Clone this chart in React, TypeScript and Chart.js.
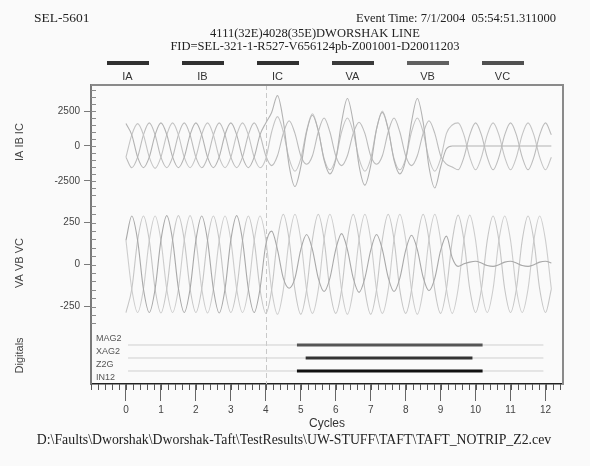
import React, { useEffect, useRef } from 'react';
import { Chart, registerables } from 'chart.js';

Chart.register(...registerables);

// ---------- data (sampled 6 points per cycle, read from the record) ----------
const SAMPLES_PER_CYCLE = 6;

const IA = [
  1600, 800, -800, -1550, -800, 800,
  1650, 820, -780, -1550, -800, 800,
  1650, 800, -800, -1550, -780, 820,
  1650, 800, -800, -1550, -800, 800,
  1650, 2400, 3600, 1800, -1400, -2900,
  -1500, 1000, 2200, 1100, -1000, -2000,
  -1000, 1700, 3400, 1700, -1400, -2800,
  -1400, 1200, 2400, 1200, -1000, -2000,
  -1000, 1700, 3400, 1700, -1500, -3000,
  -1500, -200, 0, 0, 0, 0,
  0, 0, 0, 0, 0, 0,
  0, 0, 0, 0, 0, 0,
  0, 0,
];

const IB = [
  -800, 800, 1600, 800, -800, -1600,
  -800, 800, 1650, 800, -800, -1550,
  -780, 820, 1650, 800, -800, -1550,
  -800, 800, 1650, 800, -800, -1550,
  -900, 1000, 2100, 1000, -900, -1800,
  -900, 1100, 2300, 1100, -900, -1700,
  -900, 1000, 2000, 1000, -900, -1800,
  -900, 1200, 2500, 1200, -900, -1700,
  -900, 1000, 2000, 1000, -900, -1800,
  -900, 900, 1500, 1650, 800, -800,
  -1700, -800, 800, 1650, 800, -800,
  -1700, -800, 800, 1650, 800, -800,
  -1700, -800,
];

const IC = [
  -800, -1550, -800, 800, 1650, 800,
  -800, -1550, -800, 800, 1650, 800,
  -800, -1550, -820, 780, 1650, 800,
  -800, -1550, -800, 800, 1650, 800,
  -700, -1400, -700, 900, 1800, 900,
  -700, -1300, -700, 1000, 2000, 1000,
  -700, -1400, -700, 900, 1700, 900,
  -700, -1300, -700, 1000, 2000, 1000,
  -700, -1400, -700, 900, 1800, 900,
  -700, -1300, -1500, -1700, -800, 800,
  1650, 800, -800, -1700, -800, 800,
  1650, 800, -800, -1700, -800, 800,
  1650, 800,
];

const VA = [
  145, 290, 145, -145, -285, -145,
  145, 292, 148, -142, -285, -145,
  145, 290, 145, -145, -288, -145,
  148, 292, 145, -145, -285, -145,
  120, 200, 90, -80, -140, -80,
  90, 180, 90, -80, -160, -80,
  90, 185, 90, -80, -165, -80,
  85, 180, 90, -75, -160, -80,
  85, 175, 90, -75, -155, -80,
  85, 170, 40, -10, 5, 15,
  20, 10, -5, -10, 0, 15,
  20, 10, -5, -10, 0, 15,
  20, 10,
];

const VB = [
  -285, -145, 145, 290, 145, -145,
  -288, -145, 145, 292, 148, -142,
  -285, -145, 145, 290, 145, -145,
  -285, -148, 142, 290, 145, -145,
  -290, -150, 150, 300, 150, -150,
  -295, -150, 150, 300, 150, -150,
  -290, -150, 150, 300, 150, -150,
  -295, -150, 150, 300, 150, -150,
  -290, -150, 150, 300, 150, -150,
  -290, -145, 145, 295, 145, -145,
  -285, -145, 145, 290, 145, -145,
  -285, -145, 145, 290, 145, -145,
  -285, -145,
];

const VC = [
  145, -145, -285, -145, 145, 290,
  145, -145, -285, -145, 145, 292,
  148, -142, -288, -145, 145, 290,
  145, -145, -285, -148, 142, 290,
  150, -150, -295, -150, 150, 300,
  150, -150, -290, -150, 150, 300,
  150, -150, -295, -150, 150, 300,
  150, -150, -290, -150, 150, 300,
  150, -150, -295, -150, 150, 300,
  145, -145, -290, -145, 145, 295,
  145, -145, -285, -145, 145, 290,
  145, -145, -285, -145, 145, 290,
  145, -145,
];

const cycleTicks = [0, 1, 2, 3, 4, 5, 6, 7, 8, 9, 10, 11, 12];
const currentTicks = [-2500, 0, 2500];
const voltageTicks = [-250, 0, 250];

const digitalNames = ['MAG2', 'XAG2', 'Z2G', 'IN12'];
const digitalLevels = [3, 2, 1, 0];
const digitalOn = [4.89, 5.14, 4.89];
const digitalOff = [10.2, 9.91, 10.2];
const digitalRecord = [0.06, 11.94];
const faultMarkCycle = 4;

const channelNames = ['IA', 'IB', 'IC', 'VA', 'VB', 'VC'];

const headerLeft = 'SEL-5601';
const headerRight = 'Event Time: 7/1/2004\u00a0\u00a005:54:51.311000';
const titleLine1 = '4111(32E)4028(35E)DWORSHAK LINE';
const titleLine2 = 'FID=SEL-321-1-R527-V656124pb-Z001001-D20011203';
const footerPath = 'D:\\Faults\\Dworshak\\Dworshak-Taft\\TestResults\\UW-STUFF\\TAFT\\TAFT_NOTRIP_Z2.cev';

// ---------- styles ----------
const SANS = '"Liberation Sans", Arial, sans-serif';
const SERIF = '"Liberation Serif", "Times New Roman", serif';
const traceColors = ['#b2b2b2', '#c4c4c4', '#bcbcbc', '#a8a8a8', '#c6c6c6', '#cdcdcd'];
const legendColors = ['#303030', '#303030', '#303030', '#3a3a3a', '#606060', '#505050'];
const digitalBarColors = ['#555555', '#333333', '#111111'];

const framePlugin = {
  id: 'frame',
  beforeDatasetsDraw(chart: any) {
    const { ctx, chartArea: a, scales } = chart;
    const x = Math.round(scales.x.getPixelForValue(faultMarkCycle)) + 0.5;
    ctx.save();
    ctx.strokeStyle = '#c8c8c8';
    ctx.lineWidth = 1;
    ctx.setLineDash([5, 3]);
    ctx.beginPath();
    ctx.moveTo(x, a.top);
    ctx.lineTo(x, a.bottom);
    ctx.stroke();
    ctx.restore();
  },
  afterDraw(chart: any) {
    const { ctx, chartArea: a, scales } = chart;
    ctx.save();
    ctx.strokeStyle = '#8a8a8a';
    ctx.lineWidth = 2;
    ctx.beginPath();
    ctx.moveTo(a.left, a.top);
    ctx.lineTo(a.right, a.top);
    ctx.lineTo(a.right, a.bottom);
    ctx.stroke();
    ctx.lineWidth = 1;
    ctx.strokeStyle = '#8a8a8a';
    const minor: [string, number][] = [['yI', 500], ['yV', 50]];
    for (const [id, step] of minor) {
      const s = scales[id];
      for (let v = Math.ceil(s.min / step) * step; v <= s.max; v += step) {
        const y = Math.round(s.getPixelForValue(v)) + 0.5;
        ctx.beginPath();
        ctx.moveTo(a.left, y);
        ctx.lineTo(a.left + 5, y);
        ctx.stroke();
      }
    }
    const sx = scales.x;
    ctx.strokeStyle = '#555';
    for (let v = Math.ceil(sx.min / 0.2) * 0.2; v <= sx.max + 1e-6; v += 0.2) {
      const x = Math.round(sx.getPixelForValue(v)) + 0.5;
      ctx.beginPath();
      ctx.moveTo(x, a.bottom);
      ctx.lineTo(x, a.bottom + 6);
      ctx.stroke();
    }
    ctx.restore();
  },
};

export default function App() {
  const ref = useRef<HTMLCanvasElement>(null);

  useEffect(() => {
    document.body.style.margin = '0';
    const pts = (arr: number[]) => arr.map((y, i) => ({ x: i / SAMPLES_PER_CYCLE, y }));
    const analog = [IA, IB, IC, VA, VB, VC].map((arr, k) => ({
      label: channelNames[k],
      data: pts(arr),
      yAxisID: k < 3 ? 'yI' : 'yV',
      borderColor: traceColors[k],
      borderWidth: 1.1,
      cubicInterpolationMode: 'monotone' as const,
      pointRadius: 0,
    }));
    const bars = digitalOn.map((on, k) => ({
      label: digitalNames[k] + ' on',
      data: [{ x: on, y: digitalLevels[k] }, { x: digitalOff[k], y: digitalLevels[k] }],
      yAxisID: 'yD',
      borderColor: digitalBarColors[k],
      borderWidth: 3,
      pointRadius: 0,
    }));
    const bases = digitalOn.map((_, k) => ({
      label: digitalNames[k],
      data: [{ x: digitalRecord[0], y: digitalLevels[k] }, { x: digitalRecord[1], y: digitalLevels[k] }],
      yAxisID: 'yD',
      borderColor: '#cfcfcf',
      borderWidth: 1,
      pointRadius: 0,
    }));

    const tickFont = { family: SANS, size: 10 };
    const titleFont = { family: SANS, size: 11 };

    const chart = new Chart(ref.current as HTMLCanvasElement, {
      type: 'line',
      data: { datasets: [...bars, ...bases, ...analog] as any },
      options: {
        responsive: false,
        animation: false,
        events: [],
        layout: { padding: { top: 85, right: 27, left: 0, bottom: 0 } },
        plugins: { legend: { display: false }, tooltip: { enabled: false } },
        scales: {
          x: {
            type: 'linear',
            min: -1,
            max: 12.5,
            afterFit: (s: any) => { s.height = 82; },
            afterBuildTicks: (s: any) => { s.ticks = cycleTicks.map((v) => ({ value: v })); },
            grid: { drawOnChartArea: false, tickLength: 17, color: '#666' },
            border: { color: '#222', width: 1.5 },
            ticks: { color: '#444', font: tickFont, padding: 3, autoSkip: false, maxRotation: 0, callback: (v: any) => String(v) },
            title: { display: true, text: 'Cycles', color: '#333', font: { family: SANS, size: 12 }, padding: { top: 0, bottom: 35 } },
          },
          yD: {
            type: 'linear',
            position: 'left',
            stack: 'rec',
            stackWeight: 57.2,
            min: 0,
            max: 4.4,
            afterFit: (s: any) => { s.width = 91; },
            afterBuildTicks: (s: any) => { s.ticks = digitalLevels.map((l) => ({ value: l + 0.5 })); },
            grid: { drawOnChartArea: false, drawTicks: false },
            border: { color: '#7a7a7a', width: 2 },
            ticks: {
              mirror: true,
              autoSkip: false,
              padding: 5,
              color: '#555',
              font: { family: SANS, size: 9 },
              callback: (v: any) => digitalNames[digitalLevels.indexOf(Math.round(Number(v) - 0.5))],
            },
            title: { display: true, text: 'Digitals', color: '#444', font: titleFont, padding: { top: 13, bottom: 0 } },
          },
          yV: {
            type: 'linear',
            position: 'left',
            stack: 'rec',
            stackWeight: 127.7,
            min: -370,
            max: 390,
            afterFit: (s: any) => { s.width = 91; },
            afterBuildTicks: (s: any) => { s.ticks = voltageTicks.map((v) => ({ value: v })); },
            grid: { drawOnChartArea: false, tickLength: 7, color: '#7a7a7a' },
            border: { color: '#7a7a7a', width: 2 },
            ticks: { color: '#444', font: tickFont, padding: 4, autoSkip: false, callback: (v: any) => String(v) },
            title: { display: true, text: 'VA VB VC', color: '#444', font: titleFont, padding: { top: 13, bottom: 0 } },
          },
          yI: {
            type: 'linear',
            position: 'left',
            stack: 'rec',
            stackWeight: 114.2,
            min: -3800,
            max: 4360,
            afterFit: (s: any) => { s.width = 91; },
            afterBuildTicks: (s: any) => { s.ticks = currentTicks.map((v) => ({ value: v })); },
            grid: { drawOnChartArea: false, tickLength: 7, color: '#7a7a7a' },
            border: { color: '#7a7a7a', width: 2 },
            ticks: { color: '#444', font: tickFont, padding: 4, autoSkip: false, callback: (v: any) => String(v) },
            title: { display: true, text: 'IA IB IC', color: '#444', font: titleFont, padding: { top: 13, bottom: 0 } },
          },
        } as any,
      },
      plugins: [framePlugin],
    });
    return () => chart.destroy();
  }, []);

  const text = { position: 'absolute' as const, fontFamily: SERIF, fontSize: 12.5, lineHeight: '14px', color: '#222', whiteSpace: 'nowrap' as const };

  return (
    <div style={{ position: 'absolute', left: 0, top: 0, width: 590, height: 466, background: '#fafafa', overflow: 'hidden' }}>
      <canvas ref={ref} width={590} height={466} style={{ position: 'absolute', left: 0, top: 0 }} />
      <div style={{ ...text, left: 34, top: 11, fontSize: 13.5 }}>{headerLeft}</div>
      <div style={{ ...text, right: 34, top: 11 }}>{headerRight}</div>
      <div style={{ ...text, left: 15, width: 600, top: 26, textAlign: 'center' }}>{titleLine1}</div>
      <div style={{ ...text, left: 15, width: 600, top: 39, textAlign: 'center' }}>{titleLine2}</div>
      <div style={{ position: 'absolute', left: 90, top: 61, display: 'flex' }}>
        {channelNames.map((n, k) => (
          <div key={n} style={{ width: 75, display: 'flex', flexDirection: 'column', alignItems: 'center' }}>
            <div style={{ width: 42, height: 4, background: legendColors[k] }} />
            <div style={{ fontFamily: SANS, fontSize: 11, lineHeight: '13px', marginTop: 5, color: '#333' }}>{n}</div>
          </div>
        ))}
      </div>
      <div style={{ ...text, left: 0, width: 588, top: 433, textAlign: 'center', fontSize: 13.8 }}>{footerPath}</div>
    </div>
  );
}
